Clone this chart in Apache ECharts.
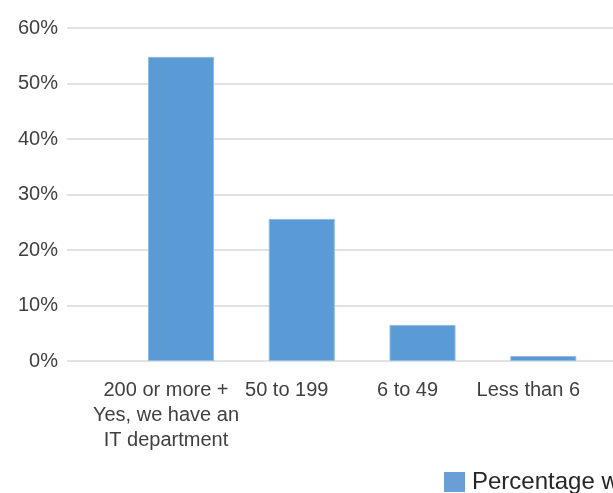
<!DOCTYPE html>
<html>
<head>
<meta charset="utf-8">
<script src="https://cdn.jsdelivr.net/npm/echarts@6/dist/echarts.min.js"></script>
<style>
  html, body { margin: 0; padding: 0; background: #ffffff; }
  #chart { width: 613px; height: 493px; }
</style>
</head>
<body>
<div id="chart"></div>
<script>
// Company size groups and the share of respondents in each
const categories = [
  "200 or more +\nYes, we have an\nIT department",
  "50 to 199",
  "6 to 49",
  "Less than 6"
];
const shareValues = [54.8, 25.6, 6.5, 0.9];
const seriesName = "Percentage with an IT department";
const yTicks = { min: 0, max: 60, step: 10 };

const labelFont = "'Liberation Sans', Arial, sans-serif";
const barBlue = "#5B9BD5";

const chart = echarts.init(document.getElementById("chart"), null, { renderer: "canvas" });

chart.setOption({
  animation: false,
  backgroundColor: "#ffffff",
  grid: [
    // grid 0 carries the percentage scale and the horizontal gridlines
    { left: 67, top: 28, right: 0, height: 333 },
    // grid 1 carries the bars; categories sit on its ticks, first to last
    { left: 181, top: 28, width: 376, height: 333 }
  ],
  xAxis: [
    { type: "value", gridIndex: 0, show: false, min: 0, max: 1 },
    {
      type: "category",
      gridIndex: 1,
      data: categories,
      boundaryGap: false,
      axisLine: { show: false },
      axisTick: { show: false },
      axisLabel: {
        interval: 0,
        margin: 17,
        color: "#404040",
        fontFamily: labelFont,
        fontSize: 20,
        lineHeight: 25,
        align: "center",
        padding: [0, 30, 0, 0]
      }
    }
  ],
  yAxis: [
    {
      type: "value",
      gridIndex: 0,
      min: yTicks.min,
      max: yTicks.max,
      interval: yTicks.step,
      axisLine: { show: false },
      axisTick: { show: false },
      axisLabel: {
        formatter: "{value}%",
        margin: 9,
        color: "#404040",
        fontFamily: labelFont,
        fontSize: 20
      },
      splitLine: { lineStyle: { color: "#d9d9d9", width: 1.5 } }
    },
    {
      type: "value",
      gridIndex: 1,
      min: yTicks.min,
      max: yTicks.max,
      interval: yTicks.step,
      show: false
    }
  ],
  legend: {
    left: 444,
    top: 470,
    padding: 0,
    itemWidth: 21,
    itemHeight: 20,
    itemGap: 10,
    icon: "rect",
    itemStyle: { color: "#6a9fd6", borderWidth: 0 },
    textStyle: {
      color: "#262626",
      fontFamily: labelFont,
      fontSize: 24,
      padding: [0, 0, 0, 2]
    },
    data: [seriesName]
  },
  series: [
    {
      name: seriesName,
      type: "bar",
      xAxisIndex: 1,
      yAxisIndex: 1,
      data: shareValues,
      barWidth: 66,
      clip: false,
      itemStyle: {
        color: barBlue,
        borderColor: "#8fbbe4",
        borderWidth: 1
      }
    }
  ]
});
</script>
</body>
</html>
